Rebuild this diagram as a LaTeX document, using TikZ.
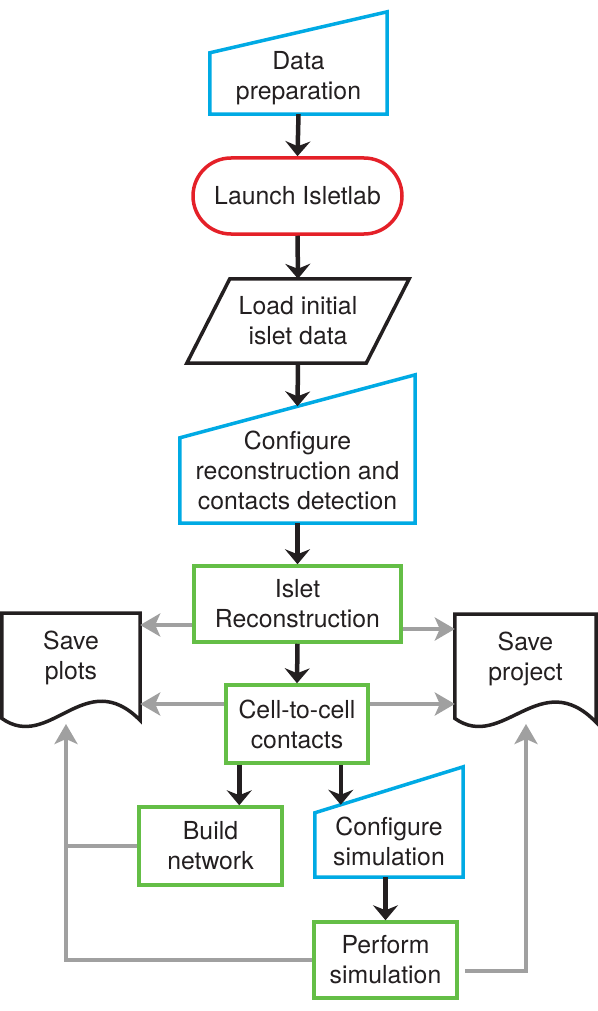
\documentclass[tikz,border=0pt]{standalone}
\usepackage{fontspec}
\setmainfont{TeX Gyre Heros}
\usetikzlibrary{arrows.meta,calc,shapes.misc}

\definecolor{flowblue}{RGB}{0,170,228}
\definecolor{flowred}{RGB}{228,32,40}
\definecolor{flowgreen}{RGB}{100,190,70}
\definecolor{flowgray}{RGB}{160,160,160}
\definecolor{flowblack}{RGB}{35,31,32}

\tikzset{
  box/.style={align=center, inner sep=0pt, text=flowblack, font=\fontsize{24.8}{30}\selectfont},
  greenbox/.style={box, draw=flowgreen, line width=3.5pt},
  outline/.style={line width=3.5pt, line join=miter},
  flow/.style={line width=4.5pt, flowblack, -{Stealth[length=15pt,width=25pt,inset=5pt]}},
  back/.style={line width=4.5pt, flowgray, -{Stealth[length=20pt,width=23pt,inset=5pt]}},
  backline/.style={line width=4.5pt, flowgray},
}

\begin{document}
\begin{tikzpicture}[x=1pt,y=-1pt]
 \useasboundingbox (0,0) rectangle (597,1011);

 % main column
 \node[box, minimum width=177pt, minimum height=72pt] (prep) at (298.5,78) {Data\\preparation};
 \draw[outline, flowblue] (prep.south west) -- ($(prep.north west)+(0,11)$) -- ($(prep.north east)+(0,-30)$) -- (prep.south east) -- cycle;

 \node[box, rounded rectangle, draw=flowred, line width=3.5pt, minimum width=209pt, minimum height=76pt] (launch) at (297.5,196) {Launch Isletlab};

 \node[box, minimum width=179pt, minimum height=84pt] (load) at (298,321) {Load initial\\islet data};
 \draw[outline, flowblack] ($(load.south west)+(-21.5,0)$) -- ($(load.north west)+(21.5,0)$) -- ($(load.north east)+(21.5,0)$) -- ($(load.south east)+(-21.5,0)$) -- cycle;

 \node[box, minimum width=235pt, minimum height=106pt] (recon) at (297.5,470) {Configure\\reconstruction and\\contacts detection};
 \coordinate (recon tl) at ($(recon.north west)+(0,21)$);
 \coordinate (recon tr) at ($(recon.north east)+(0,-42)$);
 \coordinate (recon in) at ($(recon tl)!.5!(recon tr)$);
 \draw[outline, flowblue] (recon.south west) -- (recon tl) -- (recon tr) -- (recon.south east) -- cycle;

 \node[greenbox, minimum width=207pt, minimum height=76pt] (isl) at (297.5,604) {Islet\\Reconstruction};
 \node[greenbox, minimum width=142pt, minimum height=78pt] (cell) at (297,724) {Cell-to-cell\\contacts};

 % save documents
 \node[box, minimum width=138pt, minimum height=90pt, anchor=north] (plots) at (71,613) {Save\\plots};
 \draw[outline, flowblack] ($(plots.south west)+(0,15)$) -- (plots.north west) -- (plots.north east) -- ($(plots.south east)+(0,17)$) .. controls +(-55,-56) and +(48,34) .. ($(plots.south west)+(0,15)$) -- cycle;

 \node[box, minimum width=141pt, minimum height=90pt, anchor=north] (project) at (525.5,614) {Save\\project};
 \draw[outline, flowblack] ($(project.south west)+(0,14)$) -- (project.north west) -- (project.north east) -- ($(project.south east)+(0,18)$) .. controls +(-56,-58) and +(48,34) .. ($(project.south west)+(0,14)$) -- cycle;

 % lower part
 \node[greenbox, minimum width=143pt, minimum height=78pt] (build) at (210.5,846) {Build\\network};

 \node[box, minimum width=148pt, minimum height=71pt] (csim) at (389,841.5) {Configure\\simulation};
 \coordinate (csim tl) at ($(csim.north west)+(0,7)$);
 \coordinate (csim tr) at ($(csim.north east)+(0,-39)$);
 \coordinate (csim in) at ($(csim tl)!.175!(csim tr)$);
 \draw[outline, flowblue] (csim.south west) -- (csim tl) -- (csim tr) -- (csim.south east) -- cycle;

 \node[greenbox, minimum width=143pt, minimum height=76pt] (perf) at (385.5,960) {Perform\\simulation};

 % black flow
 \draw[flow] (prep.south) -- (launch.north);
 \draw[flow] (launch.south) -- (load.north);
 \draw[flow] (load.south) -- (recon in);
 \draw[flow] (recon.south) -- (isl.north);
 \draw[flow] (isl.south) -- (cell.north);
 \draw[flow] ($(cell.south west)+(15,0)$) coordinate (c1) -- (c1 |- build.north);
 \draw[flow] (csim in |- cell.south) -- (csim in);
 \draw[flow] (perf.north |- csim.south) -- (perf.north);

 % gray saving arrows
 \coordinate (plots in) at (66,724);
 \coordinate (project in) at (526,724);
 \draw[back] ($(isl.west)+(0,21)$) coordinate (g1) -- (g1 -| plots.east);
 \draw[back] ($(isl.east)+(0,25)$) coordinate (g2) -- (g2 -| project.west);
 \draw[back] ($(cell.west)+(0,-20)$) coordinate (g3) -- (g3 -| plots.east);
 \draw[back] ($(cell.east)+(0,-20)$) coordinate (g4) -- (g4 -| project.west);
 \draw[back] (perf.west) -| (plots in);
 \draw[backline] (build.west) -- (build.west -| plots in);
 \draw[back] ($(perf.east)+(6,11)$) -| (project in);
\end{tikzpicture}
\end{document}
